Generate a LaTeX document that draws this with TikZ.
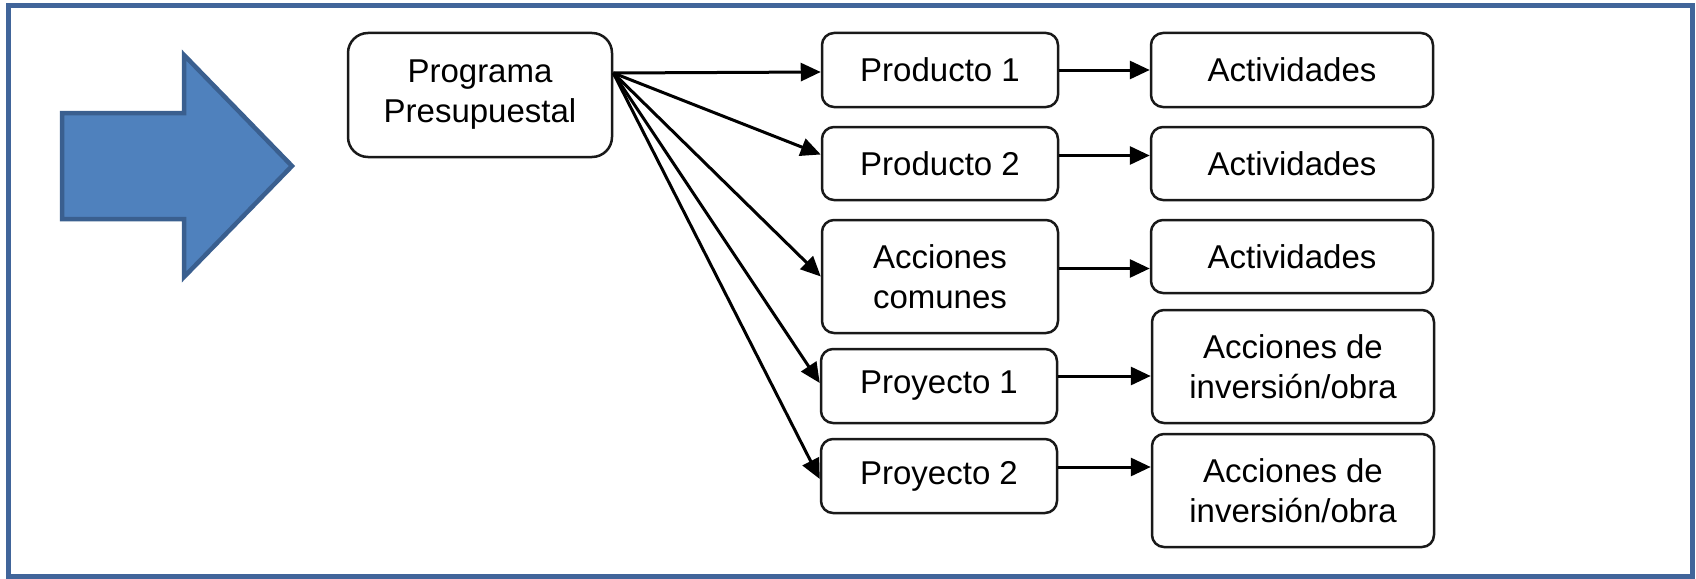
\documentclass[tikz,border=0pt]{standalone}
\usepackage{fontspec}
\setmainfont{Liberation Sans}
\usetikzlibrary{arrows.meta,calc}
\definecolor{framec}{HTML}{41659A}
\definecolor{arrfill}{HTML}{4F81BD}
\definecolor{arrdraw}{HTML}{3A5F8F}
\begin{document}
\begin{tikzpicture}[x=1pt,y=-1pt,
  boxst/.style={draw=black!90,line width=2.5pt,rounded corners=12pt,fill=white,
    align=center,inner sep=0pt,font=\fontsize{33}{40}\selectfont},
  conn/.style={line width=3pt,-{Triangle[length=20pt,width=18pt]}}]
\useasboundingbox (0,0) rectangle (1696,578);
\draw[framec,line width=5pt] (8,6) rectangle (1692,576);
% big blue arrow
\draw[fill=arrfill,draw=arrdraw,line width=4.5pt,line join=miter]
  (62,113) -- (184,113) -- (184,55) -- (292,166) -- (184,277) -- (184,219) -- (62,219) -- cycle;
% nodes
\node[boxst,rounded corners=20pt,minimum width=264pt,minimum height=124pt] (prog) at (480,95) {Programa\\Presupuestal};
\node[boxst,minimum width=236pt,minimum height=74pt] (p1) at (940,70) {Producto 1};
\node[boxst,minimum width=236pt,minimum height=73pt] (p2) at (940,163.5) {Producto 2};
\node[boxst,minimum width=236pt,minimum height=113pt] (ac) at (940,276.5) {Acciones\\comunes};
\node[boxst,minimum width=236pt,minimum height=74pt] (pr1) at (939,386) {Proyecto 1};
\node[boxst,minimum width=236pt,minimum height=74pt] (pr2) at (939,476) {Proyecto 2};
\node[boxst,minimum width=282pt,minimum height=74pt] (a1) at (1292,70) {Actividades};
\node[boxst,minimum width=282pt,minimum height=73pt] (a2) at (1292,163.5) {Actividades};
\node[boxst,minimum width=282pt,minimum height=73pt] (a3) at (1292,256.5) {Actividades};
\node[boxst,minimum width=282pt,minimum height=113pt] (ai1) at (1293,366.5) {Acciones de\\inversión/obra};
\node[boxst,minimum width=282pt,minimum height=113pt] (ai2) at (1293,490.5) {Acciones de\\inversión/obra};
% fan-out connectors
\coordinate (o) at ([yshift=22pt]prog.east);
\draw[conn] (o) -- ([yshift=-2pt]p1.west);
\draw[conn] (o) -- ([yshift=9pt]p2.west);
\draw[conn] (o) -- (ac.west);
\draw[conn] (o) -- ([yshift=3pt]pr1.west);
\draw[conn] (o) -- ([yshift=-3pt]pr2.west);
% horizontal connectors
\coordinate (h1) at (p1.east);
\coordinate (h2) at ([yshift=8pt]p2.east);
\coordinate (h3) at ([yshift=8pt]ac.east);
\coordinate (h4) at ([yshift=10pt]pr1.east);
\coordinate (h5) at ([yshift=9pt]pr2.east);
\draw[conn] (h1) -- (h1 -| a1.west);
\draw[conn] (h2) -- (h2 -| a2.west);
\draw[conn] (h3) -- (h3 -| a3.west);
\draw[conn] (h4) -- (h4 -| ai1.west);
\draw[conn] (h5) -- (h5 -| ai2.west);
\end{tikzpicture}
\end{document}
